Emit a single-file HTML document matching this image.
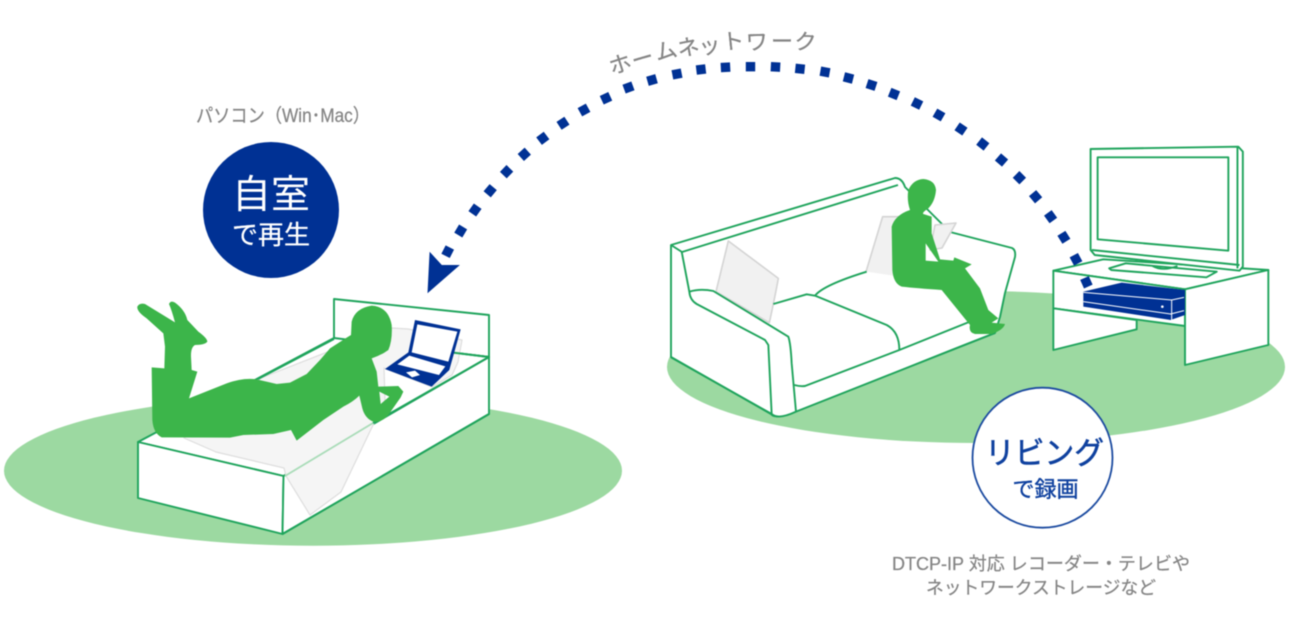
<!DOCTYPE html>
<html lang="ja"><head><meta charset="utf-8"><title>ホームネットワーク</title>
<style>
html,body{margin:0;padding:0;background:#fff;width:1299px;height:622px;overflow:hidden}
svg{display:block;filter:blur(.4px)}
text{font-family:"Liberation Sans","Noto Sans CJK JP",sans-serif}
.l *{vector-effect:non-scaling-stroke;stroke-linejoin:round}
.ln{fill:#fff;stroke:#1fa45c;stroke-width:1.9}
.o{fill:none;stroke:#1fa45c;stroke-width:1.9}
.g{fill:#3cb54a}
.n{fill:#003194}
.w{fill:#fff}
.b{fill:#f5f5f5;stroke:#dedede;stroke-width:1.2}
.p{fill:#f1f1f1;stroke:#d4d4d4;stroke-width:1.6}
.t{fill:#858585;stroke:#858585;stroke-width:.25}
.d rect{x:-4.7px;y:-4.7px;width:9.4px;height:9.4px}
</style></head><body>
<svg width="1299" height="622" viewBox="0 0 1299 622" xmlns="http://www.w3.org/2000/svg">
<rect width="1299" height="622" fill="#fff"/>

<ellipse cx="313" cy="470.7" rx="309" ry="75" fill="#9cd9a1"/>
<ellipse cx="976" cy="367" rx="309" ry="76" fill="#9cd9a1"/>

<!-- bed -->
<g class="l">
<polygon class="ln" points="334,299 489,315 489,357 334,339"/>
<polygon class="ln" points="138,442 334,338 489,357 283.5,476"/>
<polygon class="ln" points="138,442 283.5,476 282.5,534 138,498"/>
<polygon class="ln" points="283.5,476 489,357 489,414 282.5,534"/>
<path class="b" d="M184,438L216,452L284,468L286,476L310,515L341,492L374,423L385,400L384,368L386,369L432,387L452,375L458,362L462,340L408,329L392,328L330,351L261,378Z"/>
<path d="M285,476L373,423" fill="none" stroke="#a9dcb8" stroke-width="1.8"/>
<path class="o" d="M373,423L489,357M282.5,534L489,414M258,379L334,339M440,351L489,357"/>
</g>
<!-- lying person -->
<g class="l" transform="translate(130,290) scale(.33333)">
<path class="g" fill-rule="evenodd" d="M22,50Q28,38 45,42L135,97Q125,60 117,42Q122,30 135,38Q165,60 172,90L205,125Q232,145 232,155Q225,165 195,165Q182,172 183,200L185,240L202,245L177,325L290,280Q340,262 380,268L440,282L480,278L530,252L570,210L600,175L650,143L663,135L665,95Q675,55 725,47Q775,50 785,105Q788,150 775,180Q755,195 725,205L740,245L745,290L805,288L820,305L812,322L775,375Q755,398 730,395Q705,385 697,355L688,317Q670,335 640,350L580,390L500,452L483,420L430,432L340,435L300,443L95,442Q70,430 67,390L65,232L103,235L105,170L100,130L50,85Q20,65 22,50ZM748,305L778,320L752,342Z"/>
</g>
<!-- laptop -->
<g class="l" transform="translate(340,295) scale(.33333)">
<polygon class="n" points="225,75 362,103 328,225 275,275 135,222 205,172"/>
<polygon class="w" points="232,88 352,110 325,200 215,172"/>
<polygon class="w" points="172,208 208,182 316,214 297,240"/>
<polygon class="w" points="198,232 225,227 240,240 216,247"/>
</g>

<!-- sofa -->
<g class="l">
<path class="ln" d="M671,245L895,178Q902,178 905,187L950,232L1012,248Q1016,250 1015,257L1005,293L1000,317L995,333L795,411Q775,420 771,414L671,357Z"/>
<path class="o" d="M671,245L682,252L898,185"/>
</g>
<g class="l" transform="translate(660,230) scale(.33333)">
<path class="o" d="M65,65L88,185"/>
<path class="p" d="M205,33L355,145Q345,200 328,278L168,185Z"/>
<path class="p" d="M668,-40L720,-40L720,145L612,145Z"/>
<path class="w" d="M340,222L440,193L465,197Q490,165 620,125L720,140L1000,300L990,310L408,545L385,320Z"/>
<path class="o" d="M465,197Q490,165 620,125M465,197L680,285Q718,305 718,360M340,222L440,193L465,197M403,465Q420,470 435,468L718,360L930,275"/>
<path class="ln" d="M88,185Q120,175 160,183L385,320Q392,340 395,400L408,545Q355,570 335,552L325,345Q325,345 315,330L110,222Q90,210 88,185Z"/>
<path class="o" d="M33,382L335,552M408,545L1005,309"/>
</g>
<g class="l">
<path class="p" d="M935,225L956,223L942,248L930,250Z"/>
</g>
<!-- sitting person -->
<g class="l" transform="translate(860,170) scale(.33333)">
<path class="g" fill-rule="evenodd" d="M145,60Q160,28 190,27Q225,30 228,60Q225,95 205,115Q185,128 190,132L215,140L215,190L240,268L280,272L283,262L335,283L315,295L360,355L385,420L415,445L395,458L435,462Q430,480 395,492L345,492Q325,487 330,465L245,360Q170,355 125,350Q100,340 97,300L95,170Q105,135 150,120Q140,90 145,60ZM197,220L235,275L197,272Z"/>
</g>

<!-- table + tv -->
<g class="l" transform="translate(1040,240) scale(.33333)">
<polygon class="ln" points="40,92 190,58 685,90 435,148"/>
<polygon class="ln" points="40,92 435,148 435,258 40,205"/>
<polygon class="ln" points="40,205 290,240 290,268 40,330"/>
<polygon class="ln" points="435,148 685,90 685,315 435,375"/>
<polygon class="n" points="130,155 245,128 435,150 435,225 392,240 130,200"/>
<path d="M130,157L395,180L432,172M130,185L392,222L432,212M395,180L395,240" fill="none" stroke="#fff" stroke-width="1"/>
<circle cx="367" cy="200" r="4" fill="#fff"/>
</g>
<g class="l" transform="translate(650,140) scale(.4137,.33333)">
<path class="ln" d="M1110,385L1150,370L1370,395L1345,412L1115,390Z"/>
<path class="o" d="M1215,378Q1240,395 1275,378"/>
<path class="ln" d="M1065,27L1422,20L1433,35L1433,380L1425,392L1075,345L1065,330Z"/>
<polygon class="o" points="1082,52 1398,52 1398,332 1082,298"/>
<path class="o" d="M1420,22L1420,385M1068,330L1425,375"/>
</g>

<!-- dots -->
<g class="n d">
<rect transform="translate(447.7,251.7) rotate(-63)"/>
<rect transform="translate(460.7,231) rotate(-59)"/>
<rect transform="translate(475,210) rotate(-55)"/>
<rect transform="translate(490.2,190.7) rotate(-50)"/>
<rect transform="translate(506.6,171.7) rotate(-46)"/>
<rect transform="translate(524.3,154.3) rotate(-42)"/>
<rect transform="translate(542.8,138.3) rotate(-37)"/>
<rect transform="translate(563,123.3) rotate(-33)"/>
<rect transform="translate(584,110) rotate(-29)"/>
<rect transform="translate(606,98.3) rotate(-25)"/>
<rect transform="translate(628.5,87.5) rotate(-20)"/>
<rect transform="translate(652,80) rotate(-16)"/>
<rect transform="translate(677,74) rotate(-11)"/>
<rect transform="translate(701,69.5) rotate(-7)"/>
<rect transform="translate(725.5,67.3) rotate(-3)"/>
<rect transform="translate(750.5,66.7)"/>
<rect transform="translate(775.5,66.9) rotate(3)"/>
<rect transform="translate(800,68.8) rotate(6)"/>
<rect transform="translate(825,72) rotate(10)"/>
<rect transform="translate(848.5,78) rotate(14)"/>
<rect transform="translate(871.5,85) rotate(18)"/>
<rect transform="translate(894,94) rotate(22)"/>
<rect transform="translate(917,103.5) rotate(26)"/>
<rect transform="translate(939,115) rotate(30)"/>
<rect transform="translate(961,129) rotate(34)"/>
<rect transform="translate(982.8,144) rotate(38)"/>
<rect transform="translate(1001.5,160) rotate(41)"/>
<rect transform="translate(1019.4,177.7) rotate(45)"/>
<rect transform="translate(1035.6,196.7) rotate(50)"/>
<rect transform="translate(1050.6,216.7) rotate(54)"/>
<rect transform="translate(1063.9,237.3) rotate(58)"/>
<rect transform="translate(1076,259.3) rotate(62)"/>
<rect transform="translate(1086.4,282.3) rotate(66)"/>
<polygon points="429.6,251.7 441.8,265 459.9,265 427.5,293.3"/>
</g>

<!-- labels -->
<text class="t" font-size="22" x="612,634,657,679,700,723,746,771,794" y="75,69,61,57,55,50,50,49,49" rotate="-18,-16,-14,-11,-9,-6,-2,0,3">ホームネットワーク</text>
<text class="t" font-size="19" x="196" y="122" textLength="174" lengthAdjust="spacingAndGlyphs">パソコン（Win･Mac）</text>

<circle cx="271" cy="210" r="68" fill="#003194"/>
<text x="271" y="208" font-size="39" fill="#fff" text-anchor="middle">自室</text>
<text x="271" y="244" font-size="26" fill="#fff" stroke="#fff" stroke-width=".3" text-anchor="middle">で再生</text>

<circle cx="1042.5" cy="457.7" r="70" fill="#fff" stroke="#1c4ba0" stroke-width="1.8"/>
<text x="985" y="464" font-size="31" fill="#0f419f" stroke="#0f419f" stroke-width=".6" textLength="119" lengthAdjust="spacingAndGlyphs">リビング</text>
<text x="1045.5" y="497" font-size="22" fill="#0f419f" stroke="#0f419f" stroke-width=".4" text-anchor="middle">で録画</text>

<text class="t" x="892" y="570" font-size="18" textLength="298" lengthAdjust="spacingAndGlyphs">DTCP-IP 対応 レコーダー・テレビや</text>
<text class="t" x="926" y="594" font-size="18" textLength="230" lengthAdjust="spacingAndGlyphs">ネットワークストレージなど</text>
</svg>
</body></html>
